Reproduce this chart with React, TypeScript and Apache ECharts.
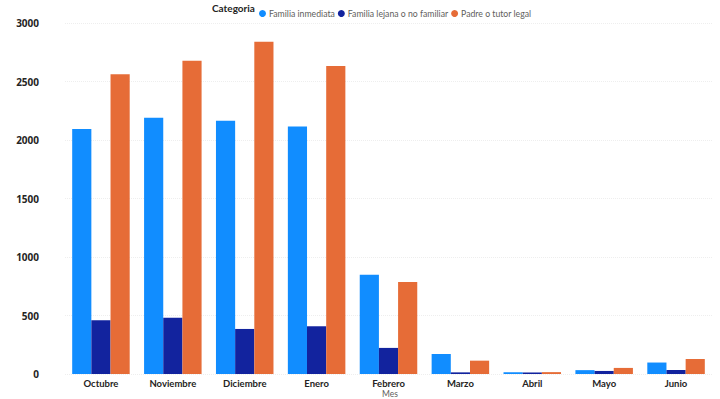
import React, { useEffect, useRef } from "react";
import * as echarts from "echarts";

const months = ["Octubre", "Noviembre", "Diciembre", "Enero", "Febrero", "Marzo", "Abril", "Mayo", "Junio"];
const familiaInmediata = [2095, 2190, 2165, 2115, 848, 171, 15, 33, 98];
const familiaLejana = [460, 480, 385, 408, 223, 14, 13, 26, 34];
const padreTutor = [2562, 2677, 2840, 2632, 787, 114, 16, 52, 128];
const yTicks = [0, 500, 1000, 1500, 2000, 2500, 3000];

const FONT = "'Open Sans', 'Noto Sans', sans-serif";
const LFONT = "Lato, 'Open Sans', sans-serif";

export default function App() {
  const ref = useRef<HTMLDivElement>(null);
  useEffect(() => {
    if (!ref.current) return;
    const chart = echarts.init(ref.current, undefined, { renderer: "svg" });
    chart.setOption({
      animation: false,
      textStyle: { fontFamily: LFONT },
      color: ["#118DFF", "#12239E", "#E66C37"],
      graphic: [
        {
          type: "text",
          left: 212,
          top: 3,
          style: { text: "Categoria", fontFamily: LFONT, fontSize: 10, fontWeight: "bold", fill: "#252423" },
        },
        {
          type: "text",
          x: 390,
          y: 394,
          style: {
            text: "Mes",
            fontFamily: LFONT,
            fontSize: 8.5,
            fill: "#605E5C",
            align: "center",
            verticalAlign: "middle",
          },
        },
      ],
      legend: {
        left: 254,
        top: 4,
        icon: "circle",
        itemWidth: 7,
        itemHeight: 7,
        itemGap: 3,
        textStyle: { fontFamily: LFONT, fontSize: 8.7, color: "#605E5C", padding: [0, 0, 0, -2] },
        data: ["Familia inmediata", "Familia lejana o no familiar", "Padre o tutor legal"],
      },
      grid: { left: 65, right: 8, top: 23, bottom: 25, containLabel: false, outerBoundsMode: "none" },
      xAxis: {
        type: "category",
        data: months,
        axisLine: { show: false },
        axisTick: { show: false },
        axisLabel: { interval: 0, fontFamily: LFONT, fontSize: 9.5, fontWeight: "bold", color: "#252423", margin: 4 },
      },
      yAxis: {
        type: "value",
        min: 0,
        max: 3000,
        interval: 500,
        axisLine: { show: false },
        axisTick: { show: false },
        axisLabel: {
          fontFamily: FONT,
          fontSize: 10,
          fontWeight: "bold",
          color: "#252423",
          margin: 26,
          formatter: (v: number) => (yTicks.includes(v) ? String(v) : ""),
        },
        splitLine: { lineStyle: { color: "#EEEEEE", type: "dotted", width: 1 } },
      },
      series: [
        { name: "Familia inmediata", type: "bar", data: familiaInmediata, barGap: "0%", barCategoryGap: "20%" },
        { name: "Familia lejana o no familiar", type: "bar", data: familiaLejana, barGap: "0%", barCategoryGap: "20%" },
        { name: "Padre o tutor legal", type: "bar", data: padreTutor, barGap: "0%", barCategoryGap: "20%" },
      ],
    });
    return () => chart.dispose();
  }, []);
  return <div ref={ref} style={{ width: 720, height: 399, position: "absolute", left: 0, top: 0 }} />;
}
